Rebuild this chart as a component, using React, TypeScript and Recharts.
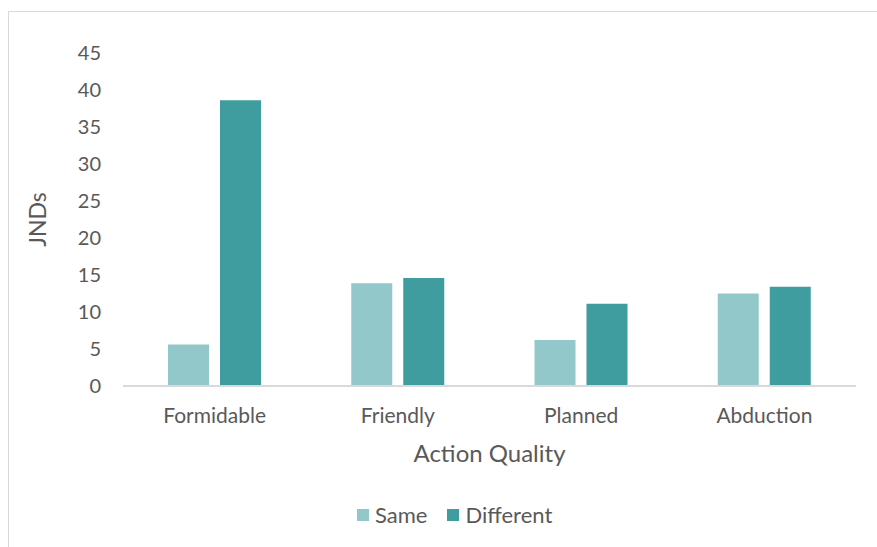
import React from 'react';
import { BarChart, Bar, XAxis, YAxis, Legend } from 'recharts';

const categories = ['Formidable', 'Friendly', 'Planned', 'Abduction'];
const seriesNames = ['Same', 'Different'];
const sameValues = [5.6, 13.9, 6.2, 12.5];
const differentValues = [38.6, 14.6, 11.1, 13.4];
const yTicks = [0, 5, 10, 15, 20, 25, 30, 35, 40, 45];

const data = categories.map((name, i) => ({
  name,
  Same: sameValues[i],
  Different: differentValues[i],
}));

const FONT = 'Lato, "Open Sans", sans-serif';
const TEXT = '#595959';

const renderLegend = (props: any) => {
  const payload = [...(props.payload || [])].sort(
    (a: any, b: any) => seriesNames.indexOf(a.value) - seriesNames.indexOf(b.value)
  );
  return (
    <div style={{ display: 'flex', alignItems: 'center', fontFamily: FONT, fontSize: 22, color: TEXT, lineHeight: '26px' }}>
      {payload.map((entry: any, i: number) => (
        <div key={`item-${i}`} style={{ display: 'flex', alignItems: 'center', marginRight: 20 }}>
          <span style={{ display: 'inline-block', width: 12, height: 12, background: entry.color, marginRight: 6 }} />
          <span>{entry.value}</span>
        </div>
      ))}
    </div>
  );
};

const App: React.FC = () => {
  return (
    <div style={{ position: 'absolute', left: 0, top: 0, width: 877, height: 547, background: '#fff', overflow: 'hidden' }}>
      <div
        style={{
          position: 'absolute',
          left: 8,
          top: 11,
          width: 900,
          height: 600,
          borderTop: '1px solid #d9d9d9',
          borderLeft: '1px solid #d9d9d9',
        }}
      />
      <div style={{ position: 'absolute', left: 0, top: 0 }}>
        <BarChart
          width={877}
          height={547}
          data={data}
          margin={{ top: 53, right: 21, left: 0, bottom: 81 }}
          barCategoryGap="24.5%"
          barGap={11}
        >
          <XAxis
            dataKey="name"
            height={80}
            axisLine={{ stroke: '#d9d9d9', strokeWidth: 2 }}
            tickLine={false}
            tickSize={0}
            tickMargin={22}
            tick={{ fill: TEXT, fontSize: 21, fontFamily: FONT }}
            label={{ value: 'Action Quality', position: 'insideTop', offset: 59, fill: TEXT, fontSize: 24, fontFamily: FONT }}
          />
          <YAxis
            width={123}
            domain={[0, 45]}
            ticks={yTicks}
            interval={0}
            axisLine={false}
            tickLine={false}
            tickSize={8}
            tickMargin={14}
            tick={{ fill: TEXT, fontSize: 20, fontFamily: FONT }}
            label={{ value: 'JNDs', angle: -90, position: 'center', dx: -24, fill: TEXT, fontSize: 23, fontFamily: FONT }}
          />
          <Legend
            layout="horizontal"
            verticalAlign="middle"
            content={renderLegend}
            wrapperStyle={{ left: 357, top: 502, width: 'auto', bottom: 'auto' }}
          />
          <Bar dataKey="Same" fill="#92c8c9" barSize={41} isAnimationActive={false} />
          <Bar dataKey="Different" fill="#3f9c9f" barSize={41} isAnimationActive={false} />
        </BarChart>
      </div>
    </div>
  );
};

export default App;
